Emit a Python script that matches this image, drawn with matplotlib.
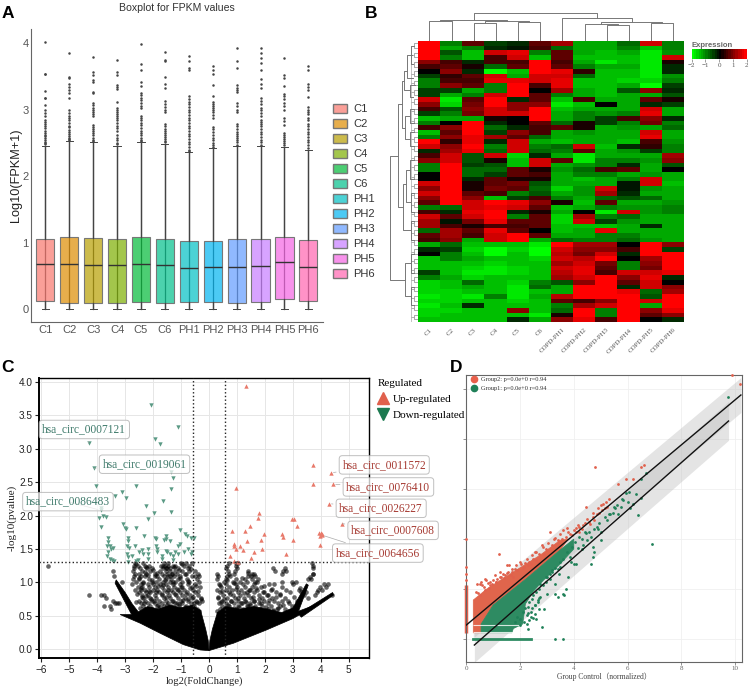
import numpy as np
import matplotlib
matplotlib.use('Agg')
import matplotlib.pyplot as plt
from matplotlib.colors import LinearSegmentedColormap
from matplotlib.patches import Patch
from matplotlib.lines import Line2D

W, H = 753, 693
SANS = 'Liberation Sans'
SERIF = 'Liberation Serif'
plt.rcParams['font.family'] = SANS

# ---- panel A values
samples = ['C1','C2','C3','C4','C5','C6','PH1','PH2','PH3','PH4','PH5','PH6']
box_colors = ['#F8766D','#DE8C00','#B79F00','#7CAE00','#00BA38','#00C08B',
              '#00BFC4','#00B4F0','#619CFF','#C77CFF','#F564E3','#FF64B0']
q1 = [.13,.10,.09,.10,.11,.10,.11,.11,.10,.11,.15,.13]
med = [.68,.68,.67,.66,.68,.66,.62,.64,.64,.65,.71,.64]
q3 = [1.06,1.08,1.07,1.05,1.09,1.06,1.02,1.03,1.05,1.05,1.08,1.04]
whisk_hi = [2.45,2.53,2.52,2.46,2.51,2.49,2.36,2.42,2.45,2.45,2.44,2.40]
outliers = [
 [4.02,3.54,3.53,3.28,3.18,3.17,3.07,3.0,2.95,2.9,2.85,2.82,2.78,2.75,2.72,2.68,2.65,2.62,2.6,2.57,2.55,2.52,2.5,2.48],
 [3.85,3.49,3.47,3.39,3.34,3.3,3.25,3.18,3.0,2.95,2.9,2.87,2.84,2.8,2.76,2.74,2.7,2.67,2.64,2.61,2.58,2.56,2.54],
 [3.79,3.57,3.52,3.45,3.42,3.27,3.25,3.1,3.07,3.03,3.0,2.97,2.94,2.9,2.77,2.74,2.71,2.68,2.65,2.62,2.58,2.55,2.53],
 [3.75,3.57,3.52,3.37,3.34,3.31,3.12,3.03,3.0,2.97,2.94,2.91,2.87,2.84,2.8,2.76,2.72,2.68,2.62,2.58,2.54,2.5,2.48],
 [3.99,3.68,3.59,3.41,3.35,3.25,3.22,3.18,3.14,3.1,3.06,3.03,2.9,2.87,2.84,2.8,2.77,2.72,2.68,2.65,2.62,2.58,2.55,2.53],
 [3.87,3.75,3.73,3.49,3.38,3.33,3.13,3.08,3.04,3.0,2.97,2.78,2.75,2.71,2.68,2.65,2.62,2.59,2.56,2.53,2.51],
 [3.81,3.73,3.62,3.59,3.2,3.16,3.12,3.08,3.04,3.0,2.96,2.92,2.88,2.84,2.8,2.76,2.72,2.68,2.64,2.6,2.56,2.52,2.48,2.44,2.4,2.38],
 [3.65,3.6,3.53,3.37,3.2,3.12,3.09,3.06,3.03,3.0,2.96,2.92,2.87,2.74,2.71,2.66,2.62,2.58,2.54,2.5,2.47,2.44],
 [3.92,3.73,3.63,3.37,3.33,3.29,3.26,3.1,3.05,3.0,2.97,2.78,2.75,2.71,2.67,2.63,2.6,2.57,2.54,2.51,2.47],
 [3.93,3.85,3.77,3.7,3.59,3.46,3.38,3.33,3.17,3.13,3.09,3.02,2.99,2.95,2.9,2.85,2.82,2.78,2.75,2.71,2.67,2.63,2.59,2.55,2.51,2.47],
 [3.78,3.52,3.47,3.35,3.24,3.2,3.16,3.1,3.05,3.0,2.88,2.83,2.77,2.65,2.62,2.59,2.56,2.53,2.5,2.47],
 [3.66,3.6,3.39,3.34,3.29,3.19,3.04,3.0,2.97,2.93,2.88,2.84,2.79,2.75,2.71,2.67,2.63,2.59,2.55,2.51,2.47,2.43],
]
box_ticks = [0, 1, 2, 3, 4]

# ---- panel B values, one list per sample, top row first
hm_labels = ['C1','C2','C3','C4','C5','C6','COPD-PH1','COPD-PH2','COPD-PH3','COPD-PH4','COPD-PH5','COPD-PH6']
hm_c1 = [2,2,2,2,1,.5,0,-.5,-1,-1,-.5,-.5,1.5,1,.5,-.5,-1.5,-1,.5,-1.5,-1,2,1.5,-.2,.6,1,-1,-1,0,.1,
         1.5,1,1.5,1,.8,-1,.5,1.5,1.2,1.2,-.8,.8,.6,-1.3,-.2,0,-1.5,-1.5,-1.5,-.5,-1,-1.6,-1.6,-1.6,-1.7,-1.6,-1.7,-1.6,-1.6,-1.5]
hm_c2 = [-1,-1.2,-.6,-1,.6,.8,1,.4,.6,1,-.5,-1.2,-1.8,-1.6,-.6,-1,-1.2,0,1,.8,1,.4,1,1.2,1.5,1.6,2,2,2,2,
         2,2,2,2,2,-.8,-.3,.8,-.1,.5,1.2,1.3,1,-.8,-.5,-1,-.9,-1.4,-1.5,-1.5,-1.3,-1.5,-1.5,-1.6,-1.6,-1.6,-1.5,-1.6,-1.5,-1.4]
hm_c3 = [.8,-1,-1.5,-1.4,-.3,.3,-.2,.8,.6,.7,-1.2,-1,.8,.9,1,.9,-1.3,2,2,2,1.8,1.8,1.9,1.7,-.6,-.6,-.5,-.7,-.7,-.3,
         .3,.2,.8,1,1.5,1.6,1.7,1.5,.9,.3,.8,.6,-1.2,-1.4,-1.6,-1.4,-1.3,-1.5,-1.6,-1.7,-1.6,-.7,-1.3,-1.5,-1.7,-1.4,-.3,-1.5,-1.5,-1.5]
hm_c4 = [-.5,-.3,1.5,.6,.5,-.8,-1.9,1.5,1.7,-1,-.9,1.5,2,2,1.5,1.5,.3,-.2,-.8,-.5,1.3,-.3,-1,-.8,1.6,.3,-.6,-.8,-.5,.7,
         .8,.9,.5,-1.5,2,1.8,1.9,1.9,1.7,.5,1.8,1.6,1.5,-1.5,-1.9,-1.9,-1.5,-1.6,-1.7,-1.7,-1.5,-1.4,-1.4,-1.5,-1,-1.4,-1.4,-1.4,-1.5,-1.5]
hm_c5 = [-.2,-.1,1.8,1.6,.5,.7,-1.5,-1.2,1.8,2,2,2,-.3,1,1,1.5,0,0,-.2,1,.7,1.5,1.6,1.5,-1.6,-1.5,-1.5,.7,.8,.2,
         .9,.7,-1,-.5,1.8,1.6,-.2,-1,.7,.6,.7,1.9,2,-1.4,-1.6,-1.5,-1.5,-1.5,-1.6,-1.6,-1.5,-1.6,-1.7,-1.8,-1.7,-1.6,-1.4,1,-1.5,-.2]
hm_c6 = [.8,.6,-1,-1.5,2,2,2,1.6,1.5,.6,0,.8,.8,1,1.9,2,2,.8,.5,.6,-.8,-1.2,-1,-.7,-.2,1.6,1.6,.2,.6,.2,
         -.6,-.8,-.6,.5,1,.7,.2,.8,.8,.7,.1,.8,-1.2,-1.7,-1.9,-1.9,-1.6,-1.5,-1.5,-1.5,-1.5,-1,-.8,-1.5,-1.3,-1.5,-1.5,-1.5,-1.8,-1.2]
hm_ph1 = [1.2,-.8,.8,.7,.5,.8,1.7,1.6,1.8,1.7,1.2,-1,-1.4,-1.7,-1.5,-1.2,-1.2,-.7,.7,-1.2,-1.3,-1.4,-.8,-1,-1.2,.8,-1.2,-1.1,-1.3,-1.2,
          -1.3,-1.6,-1.2,-1,.2,-1.5,-1.2,-1.6,-1.6,-1.5,-1.4,-1.3,-.7,2,1.6,1.4,1.5,1.3,1.5,1.4,1.2,-.6,-1.2,-1.2,1.4,.8,-.9,-.7,.2,1]
hm_ph2 = [-1.3,-1.2,-1.2,-1.4,-1.3,-1,.4,-.8,-1.4,-1.4,-1.3,-1.2,.5,-1.4,-1.3,-1,-1,.3,.2,-1.1,-1.2,-1.2,1.6,.7,-1.8,-1.7,-1.1,-.7,-1,-1.4,
          -1.2,-1.1,-1.1,-1.2,-1.4,-1.3,0,1.2,1.5,-1.4,-1.3,-1.3,-1,1.2,1,.9,1.4,1.6,1.7,1.7,1.5,1.1,2,2,2,.6,1.2,2,2,1.8]
hm_ph3 = [-1.2,-1.3,-1.4,-1.5,-1.7,-1.3,-1.4,-1.5,-1.5,-1.4,-1.5,-1.4,-1.3,.1,-1.2,-1.1,-.5,-.4,-1.3,-1.2,-1.2,-1.3,-1.5,-1.3,-1.2,-1,-.9,.5,-.9,-1.2,
          -1.2,1.5,1.3,-.8,.7,-1,-1.8,-.9,-.5,-1.4,1.7,-1,-.9,1.2,1,1.5,2,.9,.8,.6,1.9,2,1.9,2,2,1.1,1.6,-1,-.9,.5]
hm_ph4 = [-.8,-.9,-1.2,-1.5,-1.4,-1.3,-1.4,-1.5,-1.6,-1.2,-.6,-1.2,-1.3,-1.3,-1.2,-1,.5,-.9,-1.1,-1.2,-1.3,-1.5,-.2,-1.1,-1.2,-1,-.2,.7,-1.3,-1,
          -.1,-.1,-.3,-.6,-1.2,-1.1,1.6,-.8,-1.1,-1.3,-1.2,-1,-.7,.1,.6,-.2,0,-1,-1,1.6,1,.8,-.2,1.8,2,2,2,2,2,2]
hm_ph5 = [1.5,-1.5,-1.7,-1.7,-1.8,-1.7,-1.8,-1.8,-1.6,-1.9,1,-1.2,.8,-.2,1.6,1.7,1,.9,-1.2,1.6,1.7,.6,.4,-.4,-1.3,-1.1,-1.2,-1.2,-1.1,1.6,
          1.5,-1.1,-1.2,-.8,-1.2,-1.1,-1.1,-1.2,-1.2,-.3,-1.2,-1.2,-1.1,1.9,2,2,1.2,1,.9,1.5,1.7,1.6,1.5,-.8,-.6,1.5,-1.2,1,.7,0]
hm_ph6 = [-1,-1,-1.1,1.5,.2,-.3,-.2,-1.1,-1,-.4,-.3,-.6,.3,-.4,-1.3,-1.2,-.2,-1,-.8,-1.3,-1.2,-1.1,-1,-1,1.3,1,-.6,0,-1.2,-1.3,
          -1.4,-1.2,-1.3,-1.2,-1.1,-.9,-1,-1.3,-1.2,-1.3,-1.3,-1.3,-1.2,1,-.5,1.9,2,2,1.9,1.8,-.3,0,1,1.2,1.9,2,2,1.8,1.1,-.3]
# dendrogram joins: column/row a, column/row b, join height, height a, height b
col_joins = [(0,1,60,0,0),(2,3,53,0,0),(4,5,58,0,0),(2.5,4.5,60,53,58),(.5,3.5,63,60,60),
             (8,9,48,0,0),(7,8.5,52,0,48),(10,11,55,0,0),(7.75,10.5,58,52,55),(6,9.12,70,0,58),(2,7.57,85,63,70)]
row_joins = [(.5,4.5,7,4,5),(2.5,7.5,10,6,5),(9,11.5,8,3,5),(6,10,13,10,8),(14,17,8,4,4),(19,22,8,4,4),(15.5,20.5,12,8,8),
             (8,18,15,13,12),(25,29,8,4,4),(32,36,7,4,4),(27,34,11,8,7),(38,42,7,4,4),(30,40,14,11,7),
             (13,35,19,15,14),(45,49,7,4,4),(52,56,7,4,4),(47,54,12,7,7),(24,50.5,26,19,12)]

# ---- panel C values
up_x = [1.33,3.7,4.35,3.7,4.43,.95,4.28,1.8,1.76,2.95,3.05,4.77,3.15,1.45,.82,1.27,1.98,2.6,2.63,3.93,4.0,4.05,4.03,3.97,3.0,1.35,1.85,.9,.88,1.12,.95,1.2,3.96,1.9,1.6,2.75,.75,1.5,.9,1.05]
up_y = [3.94,2.76,2.64,2.47,2.47,2.41,2.18,2.04,1.96,1.95,1.95,1.88,1.85,1.85,1.77,1.77,1.72,1.72,1.68,1.74,1.74,1.73,1.71,1.7,1.64,1.62,1.63,1.57,1.54,1.55,1.5,1.48,1.56,1.5,1.45,1.43,1.39,1.37,1.32,1.3]
down_x = [-2.07,-1.11,-1.93,-1.76,-4.3,-4.1,-1.35,-1.29,-4.03,-2.6,-1.35,-3.1,-3.35,-2.96,-2.27,-1.63,-3.85,-3.87,-1.37,-1.98,-3.95,-3.8,-3.68,-2.2,-3.87,-3.08,-3.0,-2.98,-2.6,-1.05,-.87,-.8,-.65,-.55,-2.31,-1.55,-1.55,-1.4,-1.6,-1.9,-1.95,-2.9,-2.9,-3.63,-3.6,-3.55,-3.65,-3.5,-3.6,-3.45,-3.65,-3.55,-3.48,-3.4,-2.95,-2.85,-2.65,-2.5,-2.4,-2.2,-2.2,-2.35,-1.9,-1.85,-1.85,-1.55,-1.5,-1.4,-1.3,-1.2,-1.1,-1.1,-1.05,-.9,-.75,-.65,-.6,-1.7,-1.7,-2.95,-2.9,-2.75,-2.9,-2.6,-2.55,-2.2,-1.3]
down_y = [3.66,3.32,3.14,3.07,3.09,2.71,2.66,2.57,2.44,2.44,2.4,2.36,2.3,2.27,2.15,2.22,2.12,2.08,2.05,2.04,1.96,2.0,1.98,1.95,1.83,1.88,1.82,1.8,1.81,1.79,1.72,1.69,1.67,1.67,1.69,1.7,1.65,1.62,1.63,1.65,1.66,1.66,1.62,1.66,1.6,1.55,1.55,1.5,1.45,1.52,1.4,1.35,1.33,1.32,1.55,1.52,1.55,1.45,1.48,1.5,1.42,1.42,1.55,1.5,1.45,1.47,1.45,1.43,1.4,1.45,1.42,1.55,1.58,1.45,1.5,1.43,1.46,1.35,1.4,1.42,1.38,1.4,1.3,1.32,1.33,1.35,1.33]
# grey non-significant points, as (y, xs)
ns_levels = [
 (1.29,[-2.65,-2.35,-1.62,-1.45,-1.02,-.82,-.6,.7,.98,1.05,3.68]),
 (1.25,[-5.77,-2.7,-2.55,-2.3,-2.15,-1.72,-1.58,-1.48,-1.3,-1.2,-.9,-.7,.65,.95,3.7]),
 (1.21,[-2.68,-2.48,-2.22,-2.05,-1.65,-1.5,-1.38,-1.1,-.75,.62,1.0,2.3,2.7,3.72]),
 (1.17,[-3.45,-2.72,-2.4,-2.1,-1.75,-1.55,-1.4,-1.2,-.95,-.72,-.5,.68,.92,1.4,2.35,2.65,2.75]),
 (1.13,[-2.65,-2.5,-2.25,-1.95,-1.68,-1.5,-1.32,-1.15,-.85,-.4,.3,.7,.9,1.55,1.6,2.6,3.7]),
 (1.09,[-3.4,-2.7,-2.45,-2.3,-1.85,-1.62,-1.45,-1.25,-1.05,-.6,-.35,.33,.65,.75,1.4,1.5,1.65]),
 (1.05,[-2.72,-2.5,-2.15,-1.78,-1.55,-1.35,-1.1,-.8,-.42,.28,.62,.95,1.3,1.55,1.75,3.55,3.65]),
 (1.01,[-3.1,-2.6,-2.35,-2.05,-1.88,-1.65,-1.4,-1.2,-.95,-.7,-.35,.55,.85,1.1,1.35,1.7,2.95,3.1]),
 (.97,[-2.75,-2.45,-2.2,-2.0,-1.75,-1.55,-1.3,-1.05,-.75,-.5,.35,.6,.95,1.2,1.6,2.15,3.0,4.1,4.25]),
 (.93,[-2.55,-2.38,-2.15,-1.92,-1.7,-1.45,-1.25,-.98,-.6,-.32,.42,.7,1.0,1.3,1.52,1.85,2.6,3.95,4.2]),
 (.89,[-2.65,-2.45,-2.3,-2.02,-1.85,-1.6,-1.35,-1.12,-.88,-.58,.3,.62,.82,1.15,1.42,1.72,2.2,2.75,3.2,3.9,4.05]),
 (.85,[-2.5,-2.25,-2.1,-1.8,-1.52,-1.28,-1.05,-.78,-.5,.38,.72,1.05,1.35,1.62,1.95,2.4,2.9,3.3,3.85]),
 (.81,[-4.3,-3.85,-3.75,-2.4,-2.18,-1.95,-1.7,-1.42,-1.18,-.95,-.68,-.4,.5,.85,1.12,1.4,1.78,2.1,2.55,3.4,3.78,4.4]),
 (.77,[-3.68,-2.35,-2.12,-1.88,-1.62,-1.38,-1.1,-.85,-.62,-.3,.32,.65,.92,1.25,1.5,1.88,2.25,2.7,3.55]),
 (.73,[-3.45,-2.52,-2.28,-2.05,-1.78,-1.55,-1.3,-1.02,-.75,-.48,.45,.78,1.05,1.3,1.62,1.95,2.32,2.6,3.15]),
 (.69,[-3.38,-3.3,-3.22,-2.42,-2.2,-1.95,-1.7,-1.45,-1.2,-.95,-.65,-.35,.35,.6,.9,1.15,1.45,1.8,2.1,2.45,2.85]),
 (.65,[-3.75,-3.55,-2.35,-2.12,-1.85,-1.6,-1.35,-1.08,-.82,-.55,.48,.72,1.02,1.35,1.65,1.9,2.2,2.55,2.95]),
 (.61,[-3.5,-2.3,-2.05,-1.8,-1.5,-1.25,-1.0,-.72,-.42,.4,.65,.95,1.22,1.55,1.82,2.12,2.42,2.7]),
 (.57,[-2.25,-1.98,-1.72,-1.42,-1.15,-.9,-.62,-.35,.3,.58,.85,1.12,1.42,1.7,2.0,2.3]),
]
ns_extra_x = [-2.48,-2.12,-1.83,-1.57,-1.24,-.98,-.66,-2.6,-2.33,-1.97,-1.77,-1.49,-1.16,-.87,-.53,-2.41,-2.08,-1.69,-1.34,-1.07,-.77,-.44,-2.58,-2.27,-1.9,-1.53,-1.21,-.92,-.58,-.29,-2.44,-2.16,-1.82,-1.47,-1.13,-.81,-.38,-2.36,-2.03,-1.63,-1.29,-1.01,-.69,-.25,-2.52,-2.19,-1.86,-1.58,-1.33,-1.04,-.74,-.47,-2.29,-1.99,-1.66,-1.41,-1.09,-.83,-.51,-2.62,-2.24,-1.93,-1.55,-1.27,-.97,-.64,
              .36,.56,.77,1.08,1.27,1.48,1.73,2.03,2.28,.42,.68,.88,1.18,1.39,1.6,1.85,2.16,2.48,.33,.53,.8,1.02,1.33,1.57,1.78,2.07,2.38,2.66,.47,.74,.97,1.24,1.46,1.69,1.92,2.24,2.52,2.81,.39,.63,.9,1.17,1.41,1.66,1.97,2.33,2.62,3.05,3.62,3.72,3.45,3.25]
ns_extra_y = [.62,.58,.66,.6,.64,.58,.63,.71,.69,.73,.63,.67,.7,.64,.69,.79,.75,.83,.72,.68,.76,.71,.83,.8,.86,.78,.82,.74,.79,.76,.91,.87,.94,.88,.9,.83,.87,.99,1.03,.96,1.0,.93,.92,.73,1.07,1.11,1.14,1.03,1.12,1.07,1.02,.95,1.16,1.19,1.24,1.1,1.19,1.13,1.1,1.27,1.23,1.09,1.21,1.23,1.27,1.2,
              .53,.62,.56,.64,.59,.66,.56,.63,.59,.71,.67,.62,.7,.65,.72,.69,.74,.62,.79,.76,.73,.77,.71,.79,.75,.81,.78,.66,.87,.83,.9,.84,.88,.92,.86,.9,.83,.72,.96,1.03,.99,1.07,1.14,1.0,.94,.97,1.0,.78,1.08,1.12,.85,.92]
# outline of the solid black mass of points
mass_left_x = [-3.32,-3.0,-2.75,-2.53,-2.2,-1.8,-1.4,-1.0,-.6,-.3,-.12,-.03,0,-.32,-.92,-1.75,-2.46,-3.18,-2.77,-3.36]
mass_left_y = [1.04,.85,.68,.56,.64,.6,.66,.62,.66,.58,.3,.13,-.02,-.01,.07,.24,.39,.52,.52,.99]
mass_right_x = [0,.87,2.06,3.0,3.97,3.2,3.55,3.48,3.0,2.6,2.1,1.6,1.1,.6,.3,.12,.03]
mass_right_y = [-.02,.09,.29,.46,.69,.57,.96,.98,.62,.55,.6,.64,.6,.64,.55,.3,.13]
mass_arm_x = [3.2,4.42,4.45,3.3]
mass_arm_y = [.53,.85,.81,.48]
# label text, label position, marked point
up_labels = [('hsa_circ_0011572',4.77,2.76,4.35,2.64),('hsa_circ_0076410',4.91,2.43,4.43,2.47),
             ('hsa_circ_0026227',4.66,2.11,4.28,2.18),('hsa_circ_0007608',5.08,1.78,4.77,1.88),
             ('hsa_circ_0064656',4.53,1.44,4.03,1.71)]
down_labels = [('hsa_circ_0007121',-5.96,3.29,-4.3,3.09),('hsa_circ_0019061',-3.81,2.77,-4.1,2.71),
               ('hsa_circ_0086483',-6.55,2.21,-3.87,2.08)]

# ---- panel D values
fit_up_x = [0, 10.22]
fit_up_y = [.56, 9.76]
fit_down_x = [.3, 9.76]
fit_down_y = [-.24, 8.72]
band_up_x = [.26, 10.22]
band_up_lo = [.05, 9.06]
band_up_hi = [1.5, 10.46]
band_down_x = [.3, 9.76]
band_down_lo = [-.93, 7.95]
band_down_hi = [.52, 9.5]
red_mass_x = [.26,.76,1.38,2.0,2.74,3.49,3.8,3.49,2.25,1.0,.55,.55,.26]
red_mass_y = [1.56,2.0,2.43,2.85,3.35,3.95,4.0,3.56,2.43,1.36,.6,.25,.25]
green_mass_x = [.55,1.0,2.25,3.49,4.0,4.0,3.49,2.87,2.49,2.2,2.1,1.75,1.7,.55]
green_mass_y = [.6,1.36,2.43,3.56,4.0,3.6,3.0,2.35,1.9,1.4,.6,.42,.25,.25]
red_x = [.4,.5,.55,.6,.7,.75,.8,.9,1.0,1.05,1.2,1.25,1.25,1.35,1.5,1.6,1.55,1.7,1.8,2,2.05,2.2,2.35,2.5,2.55,2.7,2.8,2.9,3.1,3.3,3.4,3.5,3.55,3.6,3.75,3.8,4.1,4.2,4.15,4.45,4.5,4.7,4.8,4.9,5.0,5.1,5.2,5.3,5.65,5.95,6.2,6.5,6.6,9.9,10.2,
         .35,.45,.65,.85,.95,1.1,1.15,1.4,1.45,1.65,1.75,1.9,2.1,2.15,2.3,2.4,2.6,2.65,2.95,3.0,3.2,
         3.7,3.85,3.95,4.0,4.1,4.2,4.3,4.35,4.4,4.55,4.6,4.7,4.75,4.85,4.95,5.05,5.15,5.25,.5,.7,.9,1.1,1.3,1.5,1.7,1.85,2.25,2.45,2.6,2.85,3.05,3.25]
red_y = [2.2,2.2,2.3,2.15,2.4,2.35,2.25,2.3,2.35,2.55,3.4,2.7,2.5,2.6,2.95,2.95,2.7,2.7,2.8,3.1,3.0,3.05,3.1,3.2,3.5,3.4,3.75,3.4,4.3,4.05,3.95,4.2,4.0,4.35,4.45,4.3,4.45,4.3,4.55,5.3,4.8,5.05,6.9,5.25,5.35,5.4,5.5,5.6,6.2,6.4,6.4,6.9,6.95,10.55,10.2,
        1.9,1.85,2.1,2.05,2.2,2.3,2.4,2.45,2.55,2.55,2.5,2.75,2.85,2.9,2.95,3.0,3.15,3.05,3.6,3.55,3.75,
        4.1,4.2,4.15,4.35,4.3,4.5,4.4,4.55,4.65,4.7,4.6,4.9,4.75,5.0,5.05,5.15,5.25,5.3,1.75,1.95,2.15,2.3,2.5,2.65,2.8,2.95,3.2,3.35,3.5,3.7,3.85,4.0]
green_x = [3.3,3.6,2.8,2.6,2.7,2.9,3.3,3.4,3.6,3.7,3.65,3.0,3.8,4.1,4.0,4.65,4.7,4.75,4.7,5.0,6.9,6.4,6.1,6.5,6.3,5.5,9.75,6.7,6.5,5.8,5.6,5.3,4.4,4.9,4.3,3.9,3.5,3.2,3.1,2.95,2.75,2.65,2.55,2.45,2.4,2.35,2.3,2.25,2.3,2.5,2.55,2.7,3.3,3.45,
           3.6,3.75,3.85,3.95,4.05,4.15,4.2,4.3,4.35,4.45,4.5,4.55,4.65,4.75,4.85,4.95,5.0,5.15,5.25,5.35,5.45,5.55,5.65,5.75,5.85,5.95,6.05,6.0,6.2,
           1.8,1.9,2.0,2.1,2.2,2.3,2.35,2.45,2.5,2.6,2.7,2.75,2.85,2.95,3.0,3.1,3.2,3.3,3.4,3.5,2.0,2.15,2.25,2.4,2.55,2.65]
green_y = [0,0,.5,.8,1.2,1.2,1.8,1.7,1.8,2.0,1.75,1.8,2.5,3.0,3.0,3.0,3.3,3.5,3.7,3.95,3.8,4.95,5.25,5.65,5.8,5.3,9.7,6.65,6.4,5.6,5.35,5.0,4.3,4.4,3.6,3.1,3.1,2.7,2.4,2.5,1.7,1.55,1.35,1.25,.9,.75,1.05,.6,.4,.85,1.0,1.65,2.2,2.6,
           3.2,3.5,3.3,3.7,3.9,3.65,4.1,4.0,3.75,4.25,3.95,4.3,4.1,4.4,4.5,4.65,4.3,4.9,4.75,5.0,5.05,5.25,5.0,5.3,5.55,5.85,5.9,5.5,5.4,
           .7,.9,.8,1.1,1.25,1.3,1.5,1.6,1.75,1.9,2.0,2.2,2.15,2.3,2.5,2.6,2.75,2.85,2.8,2.9,.55,.7,.95,1.1,1.35,1.5]
x0_red_y = [4.0,2.9,2.6,2.35]
stripes_white_y = [.56, .29]
stripe0_x = [.26, 2.4]

xticks_c = list(range(-6, 6))
yticks_c = [0, .5, 1, 1.5, 2, 2.5, 3, 3.5, 4]
xticks_d = [0, 2, 4, 6, 8, 10]


def px_axes(fig, left, top, right, bottom):
    return fig.add_axes([left/W, 1-bottom/H, (right-left)/W, (bottom-top)/H])


fig = plt.figure(figsize=(W/100, H/100), dpi=100)

for letter, lx, ly in [('A',2,14),('B',365,14),('C',1,367),('D',450,367)]:
    fig.text(lx/W, 1-ly/H, letter, fontsize=12.5, fontweight='bold', color='black', va='center')

# A: boxplot
ax = px_axes(fig, 31.3, 29, 322.7, 322)
pos = np.arange(1, 13)
ax.vlines(pos, 0, whisk_hi, color='#444444', lw=.9, zorder=1)
stats = [dict(med=m, q1=a, q3=b, whislo=0, whishi=w, fliers=f)
         for m, a, b, w, f in zip(med, q1, q3, whisk_hi, outliers)]
bp = ax.bxp(stats, positions=pos, widths=.76, patch_artist=True, capwidths=.3,
            flierprops=dict(marker='o', ms=1.8, mfc='#444444', mec='#444444', mew=0),
            medianprops=dict(color='#333333', lw=1),
            whiskerprops=dict(color='#444444', lw=.9), capprops=dict(color='#444444', lw=.7),
            boxprops=dict(edgecolor='#777777', lw=.8), zorder=2)
for patch, c in zip(bp['boxes'], box_colors):
    patch.set_facecolor(matplotlib.colors.to_rgba(c, .7))
ax.set_xlim(.414, 12.6)
ax.set_ylim(-.19, 4.21)
ax.set_xticks(pos)
ax.set_xticklabels(samples)
ax.set_yticks(box_ticks)
ax.tick_params(axis='both', labelsize=8, colors='#555555', length=0, pad=2)
ax.set_ylabel('Log10(FPKM+1)', fontsize=9.2, color='#222222', labelpad=0)
ax.spines['top'].set_visible(False)
ax.spines['right'].set_visible(False)
ax.spines['left'].set_color('#666666')
ax.spines['bottom'].set_color('#666666')
fig.text(177/W, 1-8/H, 'Boxplot for FPKM values', fontsize=7.6, color='#333333', ha='center', va='center')
handles = [Patch(facecolor=matplotlib.colors.to_rgba(c, .7), edgecolor='#777777', label=s)
           for c, s in zip(box_colors, samples)]
fig.legend(handles=handles, loc='upper left', bbox_to_anchor=(333/W, 1-104/H), frameon=False,
           fontsize=8, labelcolor='#333333', handlelength=1.3, handleheight=.8,
           labelspacing=.44, handletextpad=.55, borderpad=0, borderaxespad=0)

# B: heatmap
hm = np.array([hm_c1,hm_c2,hm_c3,hm_c4,hm_c5,hm_c6,hm_ph1,hm_ph2,hm_ph3,hm_ph4,hm_ph5,hm_ph6]).T
cmap = LinearSegmentedColormap.from_list('rg', [(0,'#00ff00'),(.52,'#000000'),(1,'#ff0000')], N=24)
ax = px_axes(fig, 418.3, 41, 684.3, 321.7)
im = ax.imshow(hm, cmap=cmap, vmin=-2, vmax=2, aspect='auto', interpolation='nearest')
ax.set_yticks([])
ax.set_xticks(np.arange(12))
ax.set_xticklabels(hm_labels, rotation=45, ha='right', rotation_mode='anchor',
                   fontsize=5, family=SERIF, color='#555555')
ax.tick_params(axis='x', length=0, pad=4)
for s in ax.spines.values():
    s.set_visible(False)

dax = px_axes(fig, 418.3, 10, 684.3, 41)
for a, b, h, ha_, hb in col_joins:
    dax.plot([a, a, b, b], [ha_, h, h, hb], color='#777777', lw=.7)
dax.set_xlim(-.5, 11.5)
dax.set_ylim(0, 93)
dax.axis('off')

rax = px_axes(fig, 388, 41, 418.3, 321.7)
for k in range(0, 59, 2):
    rax.plot([0, 4, 4, 0], [k, k, k+1, k+1], color='#888888', lw=.5)
    rax.plot([4, 7, 7, 4], [k+.5, k+.5, k+2.5, k+2.5], color='#aaaaaa', lw=.5)
for a, b, d, da, db in row_joins:
    rax.plot([da, d, d, db], [a, a, b, b], color='#777777', lw=.7)
rax.set_xlim(28, 0)
rax.set_ylim(59.5, -.5)
rax.axis('off')

cax = px_axes(fig, 691.7, 49.3, 746.7, 59.3)
cb = fig.colorbar(im, cax=cax, orientation='horizontal', ticks=[-2,-1,0,1,2])
cb.outline.set_visible(False)
cb.ax.tick_params(labelsize=5, colors='#555555', length=2, width=.4, pad=1)
for t in cb.ax.get_xticklabels():
    t.set_family(SERIF)
cax.set_title('Expression', fontsize=5.5, color='#666666', loc='left', pad=2, fontweight='bold')

# C: volcano
ax = px_axes(fig, 39.3, 377.7, 369, 658.3)
ax.grid(True, color='#e6e6e6', lw=.7)
ax.set_axisbelow(True)
ns_x = [x for y, xs in ns_levels for x in xs] + ns_extra_x
ns_y = [y for y, xs in ns_levels for x in xs] + ns_extra_y
ax.fill(mass_left_x, mass_left_y, color='black', lw=.5, zorder=2)
ax.fill(mass_right_x, mass_right_y, color='black', lw=.5, zorder=2)
ax.fill(mass_arm_x, mass_arm_y, color='black', lw=.5, zorder=2)
ax.scatter(ns_x, ns_y, s=11, c='black', alpha=.6, lw=0, zorder=2)
ax.scatter(up_x, up_y, s=10, marker='^', c='#e8796a', lw=0, zorder=3)
ax.scatter(down_x, down_y, s=10, marker='v', c='#5b9a85', lw=0, zorder=3)
ax.axhline(1.3, color='#222222', ls=':', lw=1, zorder=4)
ax.axvline(-.585, color='#222222', ls=':', lw=1, zorder=4)
ax.axvline(.585, color='#222222', ls=':', lw=1, zorder=4)
ax.set_xlim(-6.07, 5.72)
ax.set_ylim(-.135, 4.065)
ax.set_xticks(xticks_c)
ax.set_xticklabels([str(v).replace('-', '\u2212') for v in xticks_c])
ax.set_yticks(yticks_c)
ax.set_yticklabels(['%.1f' % v for v in yticks_c])
ax.tick_params(axis='both', labelsize=7.2, colors='#222222', length=3, width=.8, pad=1.5)
ax.set_xlabel('log2(FoldChange)', fontsize=7.6, family=SERIF, labelpad=1.5, color='#222222')
ax.set_ylabel('-log10(pvalue)', fontsize=8, family=SERIF, labelpad=2, color='#222222')
for s in ['left', 'bottom']:
    ax.spines[s].set_linewidth(1.4)
for s in ['top', 'right']:
    ax.spines[s].set_linewidth(1)
for labels, col in [(up_labels, '#a63a32'), (down_labels, '#3f7a6b')]:
    for txt, tx, ty, px, py in labels:
        ax.annotate(txt, xy=(px, py), xytext=(tx, ty), ha='left', va='center', fontsize=8.3,
                    family=SERIF, color=col, zorder=6, annotation_clip=False,
                    bbox=dict(boxstyle='round,pad=.28', fc='white', ec='#aaaaaa', lw=.7, alpha=.75),
                    arrowprops=dict(arrowstyle='-', color='#aaaaaa', lw=.5))
leg = ax.legend(handles=[Line2D([], [], ls='', marker='^', ms=8, color='#e0604c', label='Up-regulated'),
                         Line2D([], [], ls='', marker='v', ms=8, color='#1c7a50', label='Down-regulated')],
                title='Regulated', loc='upper left', bbox_to_anchor=(378/W, 1-379/H),
                bbox_transform=fig.transFigure, frameon=False, prop=dict(family=SERIF, size=8),
                title_fontproperties=dict(family=SERIF, size=8), handlelength=.9, handletextpad=.4,
                labelspacing=.55, borderpad=0, borderaxespad=0)
leg._legend_box.align = 'left'
leg.set_zorder(20)

# D: scatter
ax = px_axes(fig, 466.3, 375, 741.7, 662.3)
ax.grid(True, color='#f0f0f0', lw=.6)
ax.set_axisbelow(True)
ax.patch.set_alpha(0)
ax.fill_between(band_up_x, band_up_lo, band_up_hi, color='#bfbfbf', alpha=.42, lw=0, zorder=1)
ax.fill_between(band_down_x, band_down_lo, band_down_hi, color='#bfbfbf', alpha=.42, lw=0, zorder=1)
ax.fill(red_mass_x, red_mass_y, color='#e0654c', lw=.5, zorder=2)
ax.fill(green_mass_x, green_mass_y, color='#2e8b62', lw=.5, zorder=2)
ax.hlines(stripes_white_y, .26, 2.1, color='white', lw=.8, alpha=.8, zorder=2)
ax.plot(stripe0_x, [0, 0], color='#2e8b62', lw=2, zorder=2)
ax.vlines(0, .25, 2.15, color='#e8604c', lw=2.5, zorder=2, clip_on=False)
ax.scatter(red_x, red_y, s=4, c='#e0604c', lw=0, zorder=3, clip_on=False)
ax.scatter([0]*len(x0_red_y), x0_red_y, s=4, c='#e8604c', lw=0, zorder=3, clip_on=False)
ax.scatter(green_x, green_y, s=4, c='#1f8058', lw=0, zorder=3)
ax.plot(fit_up_x, fit_up_y, color='#111111', lw=1, zorder=4)
ax.plot(fit_down_x, fit_down_y, color='#111111', lw=1, zorder=4)
ax.set_xlim(0, 10.25)
ax.set_ylim(-.93, 10.56)
ax.set_xticks(xticks_d)
ax.set_yticks([0, 2, 4, 6, 8, 10])
ax.set_yticklabels([])
ax.tick_params(axis='both', labelsize=5, colors='#666666', length=2, width=.5, pad=1)
for t in ax.get_xticklabels():
    t.set_family(SERIF)
ax.set_xlabel('Group Control\uff08normalized\uff09', fontsize=5.5, color='#444444', labelpad=1,
              family=[SERIF, 'Noto Sans CJK SC'])
for s in ax.spines.values():
    s.set_color('#666666')
    s.set_linewidth(.8)
ax.legend(handles=[Line2D([], [], ls='', marker='o', ms=4.5, color='#e8604c', label='Group2: p=0.0e+0 r=0.94'),
                   Line2D([], [], ls='', marker='o', ms=4.5, color='#1f8058', label='Group1: p=0.0e+0 r=0.94')],
          loc='upper left', frameon=False, prop=dict(family=SERIF, size=4.6), labelcolor='#333333',
          handletextpad=0, labelspacing=.5, borderpad=.25, borderaxespad=0)

fig.savefig('out.png', dpi=100)
